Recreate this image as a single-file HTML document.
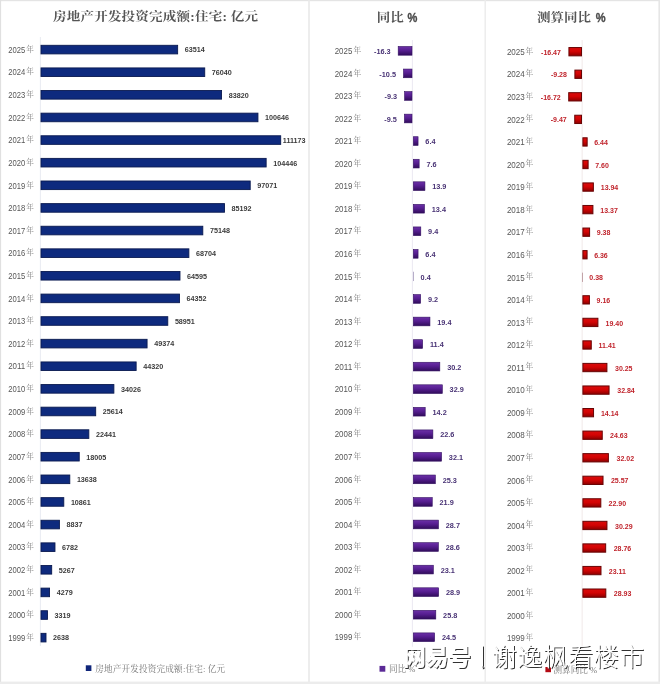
<!DOCTYPE html>
<html lang="zh-CN"><head><meta charset="utf-8"><title>房地产开发投资完成额:住宅</title>
<style>
html,body{margin:0;padding:0;background:#fff;}
body{width:660px;height:684px;overflow:hidden;position:relative;}
svg{display:block;position:absolute;left:0;top:0;filter:blur(0.3px);}
.yr{font-family:"Liberation Sans",sans-serif;font-size:8.8px;fill:#565656;}
.n{font-family:"Liberation Serif","Noto Serif CJK SC",serif;font-size:7.6px;fill:#808080;}
.ttl{font-family:"Liberation Serif","Noto Serif CJK SC",serif;font-size:13.5px;font-weight:700;fill:#555;}
.pc{font-family:"Liberation Sans",sans-serif;font-weight:bold;font-size:12.6px;fill:#4a4a4a;stroke:#4a4a4a;stroke-width:0.35px;}
.v1{font-family:"Liberation Sans",sans-serif;font-weight:bold;font-size:7.2px;fill:#3a3a3a;}
.v2{font-family:"Liberation Sans",sans-serif;font-weight:bold;font-size:7.3px;fill:#483274;}
.v3{font-family:"Liberation Sans",sans-serif;font-weight:bold;font-size:7px;fill:#c0242c;}
.lg{font-family:"Liberation Serif","Noto Serif CJK SC",serif;font-size:8.6px;fill:#757575;}
.wm{font-family:"Liberation Sans","Noto Sans CJK SC",sans-serif;font-weight:300;font-size:25px;fill:#fff;}
.wmb{font-family:"Liberation Sans","Noto Sans CJK SC",sans-serif;font-weight:900;font-size:23px;fill:#fff;}
</style></head><body>
<svg width="660" height="684" viewBox="0 0 660 684">
<defs>
<linearGradient id="gp" x1="0" y1="0" x2="0" y2="1"><stop offset="0" stop-color="#6c30a8"/><stop offset="0.45" stop-color="#561e90"/><stop offset="1" stop-color="#300c5a"/></linearGradient>
<linearGradient id="gr" x1="0" y1="0" x2="0" y2="1"><stop offset="0" stop-color="#d80c0c"/><stop offset="0.45" stop-color="#d40404"/><stop offset="1" stop-color="#8c0000"/></linearGradient>
<filter id="sh" x="-5%" y="-20%" width="110%" height="140%"><feDropShadow dx="1" dy="1" stdDeviation="0.3" flood-color="#303030" flood-opacity="1"/></filter>
</defs>
<rect x="0" y="0" width="660" height="684" fill="#fff"/>
<!-- frame -->
<rect x="0" y="0" width="660" height="1.2" fill="#e4e4e4"/>
<rect x="0" y="0" width="1.1" height="684" fill="#e0e0e0"/>
<rect x="658.4" y="0" width="1.6" height="684" fill="#e6e6e6"/>
<rect x="0" y="681.6" width="660" height="2.4" fill="#ececec"/>
<rect x="308.2" y="0" width="1.6" height="682" fill="#e9e9e9"/>
<rect x="484.5" y="0" width="1.4" height="682" fill="#ececec"/>

<!-- panel 1 -->
<text class="ttl" transform="translate(53,21.0) scale(1,0.9)" x="0" y="0" textLength="205" lengthAdjust="spacing">房地产开发投资完成额:住宅: 亿元</text>
<rect x="39.9" y="37" width="0.8" height="609" fill="#e3e6ee"/>
<text class="yr" x="8.2" y="52.80" textLength="17" lengthAdjust="spacingAndGlyphs">2025</text><text class="n" x="26.3" y="51.80">年</text>
<rect x="41.0" y="45.30" width="136.64" height="8.6" fill="#0e2a7e" stroke="#0a1a50" stroke-width="0.9"/>
<text class="v1" x="184.74" y="52.45">63514</text>
<text class="yr" x="8.2" y="75.42" textLength="17" lengthAdjust="spacingAndGlyphs">2024</text><text class="n" x="26.3" y="74.42">年</text>
<rect x="41.0" y="67.92" width="163.73" height="8.6" fill="#0e2a7e" stroke="#0a1a50" stroke-width="0.9"/>
<text class="v1" x="211.83" y="75.07">76040</text>
<text class="yr" x="8.2" y="98.03" textLength="17" lengthAdjust="spacingAndGlyphs">2023</text><text class="n" x="26.3" y="97.03">年</text>
<rect x="41.0" y="90.53" width="180.55" height="8.6" fill="#0e2a7e" stroke="#0a1a50" stroke-width="0.9"/>
<text class="v1" x="228.65" y="97.68">83820</text>
<text class="yr" x="8.2" y="120.65" textLength="17" lengthAdjust="spacingAndGlyphs">2022</text><text class="n" x="26.3" y="119.65">年</text>
<rect x="41.0" y="113.15" width="216.94" height="8.6" fill="#0e2a7e" stroke="#0a1a50" stroke-width="0.9"/>
<text class="v1" x="265.04" y="120.30">100646</text>
<text class="yr" x="8.2" y="143.27" textLength="17" lengthAdjust="spacingAndGlyphs">2021</text><text class="n" x="26.3" y="142.27">年</text>
<rect x="41.0" y="135.77" width="239.70" height="8.6" fill="#0e2a7e" stroke="#0a1a50" stroke-width="0.9"/>
<text class="v1" x="282.80" y="142.92">111173</text>
<text class="yr" x="8.2" y="165.89" textLength="17" lengthAdjust="spacingAndGlyphs">2020</text><text class="n" x="26.3" y="164.89">年</text>
<rect x="41.0" y="158.38" width="225.15" height="8.6" fill="#0e2a7e" stroke="#0a1a50" stroke-width="0.9"/>
<text class="v1" x="273.25" y="165.53">104446</text>
<text class="yr" x="8.2" y="188.50" textLength="17" lengthAdjust="spacingAndGlyphs">2019</text><text class="n" x="26.3" y="187.50">年</text>
<rect x="41.0" y="181.00" width="209.21" height="8.6" fill="#0e2a7e" stroke="#0a1a50" stroke-width="0.9"/>
<text class="v1" x="257.31" y="188.15">97071</text>
<text class="yr" x="8.2" y="211.12" textLength="17" lengthAdjust="spacingAndGlyphs">2018</text><text class="n" x="26.3" y="210.12">年</text>
<rect x="41.0" y="203.62" width="183.52" height="8.6" fill="#0e2a7e" stroke="#0a1a50" stroke-width="0.9"/>
<text class="v1" x="231.62" y="210.77">85192</text>
<text class="yr" x="8.2" y="233.74" textLength="17" lengthAdjust="spacingAndGlyphs">2017</text><text class="n" x="26.3" y="232.74">年</text>
<rect x="41.0" y="226.24" width="161.80" height="8.6" fill="#0e2a7e" stroke="#0a1a50" stroke-width="0.9"/>
<text class="v1" x="209.90" y="233.39">75148</text>
<text class="yr" x="8.2" y="256.35" textLength="17" lengthAdjust="spacingAndGlyphs">2016</text><text class="n" x="26.3" y="255.35">年</text>
<rect x="41.0" y="248.85" width="147.87" height="8.6" fill="#0e2a7e" stroke="#0a1a50" stroke-width="0.9"/>
<text class="v1" x="195.97" y="256.00">68704</text>
<text class="yr" x="8.2" y="278.97" textLength="17" lengthAdjust="spacingAndGlyphs">2015</text><text class="n" x="26.3" y="277.97">年</text>
<rect x="41.0" y="271.47" width="138.98" height="8.6" fill="#0e2a7e" stroke="#0a1a50" stroke-width="0.9"/>
<text class="v1" x="187.08" y="278.62">64595</text>
<text class="yr" x="8.2" y="301.59" textLength="17" lengthAdjust="spacingAndGlyphs">2014</text><text class="n" x="26.3" y="300.59">年</text>
<rect x="41.0" y="294.09" width="138.45" height="8.6" fill="#0e2a7e" stroke="#0a1a50" stroke-width="0.9"/>
<text class="v1" x="186.55" y="301.24">64352</text>
<text class="yr" x="8.2" y="324.20" textLength="17" lengthAdjust="spacingAndGlyphs">2013</text><text class="n" x="26.3" y="323.20">年</text>
<rect x="41.0" y="316.70" width="126.78" height="8.6" fill="#0e2a7e" stroke="#0a1a50" stroke-width="0.9"/>
<text class="v1" x="174.88" y="323.85">58951</text>
<text class="yr" x="8.2" y="346.82" textLength="17" lengthAdjust="spacingAndGlyphs">2012</text><text class="n" x="26.3" y="345.82">年</text>
<rect x="41.0" y="339.32" width="106.07" height="8.6" fill="#0e2a7e" stroke="#0a1a50" stroke-width="0.9"/>
<text class="v1" x="154.17" y="346.47">49374</text>
<text class="yr" x="8.2" y="369.44" textLength="17" lengthAdjust="spacingAndGlyphs">2011</text><text class="n" x="26.3" y="368.44">年</text>
<rect x="41.0" y="361.94" width="95.14" height="8.6" fill="#0e2a7e" stroke="#0a1a50" stroke-width="0.9"/>
<text class="v1" x="143.24" y="369.09">44320</text>
<text class="yr" x="8.2" y="392.06" textLength="17" lengthAdjust="spacingAndGlyphs">2010</text><text class="n" x="26.3" y="391.06">年</text>
<rect x="41.0" y="384.56" width="72.88" height="8.6" fill="#0e2a7e" stroke="#0a1a50" stroke-width="0.9"/>
<text class="v1" x="120.98" y="391.70">34026</text>
<text class="yr" x="8.2" y="414.67" textLength="17" lengthAdjust="spacingAndGlyphs">2009</text><text class="n" x="26.3" y="413.67">年</text>
<rect x="41.0" y="407.17" width="54.69" height="8.6" fill="#0e2a7e" stroke="#0a1a50" stroke-width="0.9"/>
<text class="v1" x="102.79" y="414.32">25614</text>
<text class="yr" x="8.2" y="437.29" textLength="17" lengthAdjust="spacingAndGlyphs">2008</text><text class="n" x="26.3" y="436.29">年</text>
<rect x="41.0" y="429.79" width="47.83" height="8.6" fill="#0e2a7e" stroke="#0a1a50" stroke-width="0.9"/>
<text class="v1" x="95.93" y="436.94">22441</text>
<text class="yr" x="8.2" y="459.91" textLength="17" lengthAdjust="spacingAndGlyphs">2007</text><text class="n" x="26.3" y="458.91">年</text>
<rect x="41.0" y="452.41" width="38.23" height="8.6" fill="#0e2a7e" stroke="#0a1a50" stroke-width="0.9"/>
<text class="v1" x="86.33" y="459.56">18005</text>
<text class="yr" x="8.2" y="482.52" textLength="17" lengthAdjust="spacingAndGlyphs">2006</text><text class="n" x="26.3" y="481.52">年</text>
<rect x="41.0" y="475.02" width="28.79" height="8.6" fill="#0e2a7e" stroke="#0a1a50" stroke-width="0.9"/>
<text class="v1" x="76.89" y="482.17">13638</text>
<text class="yr" x="8.2" y="505.14" textLength="17" lengthAdjust="spacingAndGlyphs">2005</text><text class="n" x="26.3" y="504.14">年</text>
<rect x="41.0" y="497.64" width="22.79" height="8.6" fill="#0e2a7e" stroke="#0a1a50" stroke-width="0.9"/>
<text class="v1" x="70.89" y="504.79">10861</text>
<text class="yr" x="8.2" y="527.76" textLength="17" lengthAdjust="spacingAndGlyphs">2004</text><text class="n" x="26.3" y="526.76">年</text>
<rect x="41.0" y="520.26" width="18.41" height="8.6" fill="#0e2a7e" stroke="#0a1a50" stroke-width="0.9"/>
<text class="v1" x="66.51" y="527.41">8837</text>
<text class="yr" x="8.2" y="550.37" textLength="17" lengthAdjust="spacingAndGlyphs">2003</text><text class="n" x="26.3" y="549.37">年</text>
<rect x="41.0" y="542.87" width="13.97" height="8.6" fill="#0e2a7e" stroke="#0a1a50" stroke-width="0.9"/>
<text class="v1" x="62.07" y="550.02">6782</text>
<text class="yr" x="8.2" y="572.99" textLength="17" lengthAdjust="spacingAndGlyphs">2002</text><text class="n" x="26.3" y="571.99">年</text>
<rect x="41.0" y="565.49" width="10.69" height="8.6" fill="#0e2a7e" stroke="#0a1a50" stroke-width="0.9"/>
<text class="v1" x="58.79" y="572.64">5267</text>
<text class="yr" x="8.2" y="595.61" textLength="17" lengthAdjust="spacingAndGlyphs">2001</text><text class="n" x="26.3" y="594.61">年</text>
<rect x="41.0" y="588.11" width="8.55" height="8.6" fill="#0e2a7e" stroke="#0a1a50" stroke-width="0.9"/>
<text class="v1" x="56.65" y="595.26">4279</text>
<text class="yr" x="8.2" y="618.23" textLength="17" lengthAdjust="spacingAndGlyphs">2000</text><text class="n" x="26.3" y="617.23">年</text>
<rect x="41.0" y="610.73" width="6.48" height="8.6" fill="#0e2a7e" stroke="#0a1a50" stroke-width="0.9"/>
<text class="v1" x="54.58" y="617.88">3319</text>
<text class="yr" x="8.2" y="640.84" textLength="17" lengthAdjust="spacingAndGlyphs">1999</text><text class="n" x="26.3" y="639.84">年</text>
<rect x="41.0" y="633.34" width="5.00" height="8.6" fill="#0e2a7e" stroke="#0a1a50" stroke-width="0.9"/>
<text class="v1" x="53.10" y="640.49">2638</text>
<rect x="85.8" y="665.3" width="5.6" height="5.7" fill="#10267a"/>
<text class="lg" x="95.2" y="671.6" textLength="130" lengthAdjust="spacing">房地产开发投资完成额:住宅: 亿元</text>
<!-- panel 2 -->
<text class="ttl" transform="translate(376.8,21.8) scale(1,0.9)" x="0" y="0">同比</text>
<text class="pc" transform="translate(407.6,21.7) scale(0.88,1)" x="0" y="0">%</text>
<rect x="411.90000000000003" y="40" width="0.8" height="610" fill="#e6e3ee"/>
<text class="yr" x="334.7" y="54.05" textLength="17.6" lengthAdjust="spacingAndGlyphs">2025</text><text class="n" x="353.6" y="53.05">年</text>
<rect x="398.19" y="46.50" width="13.81" height="8.70" fill="url(#gp)" stroke="#321060" stroke-width="0.6"/>
<text class="v2" text-anchor="end" x="390.69" y="54.05">-16.3</text>
<text class="yr" x="334.7" y="76.60" textLength="17.6" lengthAdjust="spacingAndGlyphs">2024</text><text class="n" x="353.6" y="75.60">年</text>
<rect x="403.49" y="69.05" width="8.51" height="8.70" fill="url(#gp)" stroke="#321060" stroke-width="0.6"/>
<text class="v2" text-anchor="end" x="395.99" y="76.60">-10.5</text>
<text class="yr" x="334.7" y="99.16" textLength="17.6" lengthAdjust="spacingAndGlyphs">2023</text><text class="n" x="353.6" y="98.16">年</text>
<rect x="404.59" y="91.61" width="7.41" height="8.70" fill="url(#gp)" stroke="#321060" stroke-width="0.6"/>
<text class="v2" text-anchor="end" x="397.09" y="99.16">-9.3</text>
<text class="yr" x="334.7" y="121.71" textLength="17.6" lengthAdjust="spacingAndGlyphs">2022</text><text class="n" x="353.6" y="120.71">年</text>
<rect x="404.41" y="114.16" width="7.59" height="8.70" fill="url(#gp)" stroke="#321060" stroke-width="0.6"/>
<text class="v2" text-anchor="end" x="396.91" y="121.71">-9.5</text>
<text class="yr" x="334.7" y="144.27" textLength="17.6" lengthAdjust="spacingAndGlyphs">2021</text><text class="n" x="353.6" y="143.27">年</text>
<rect x="413.30" y="136.72" width="4.76" height="8.70" fill="url(#gp)" stroke="#321060" stroke-width="0.6"/>
<text class="v2" x="425.36" y="144.27">6.4</text>
<text class="yr" x="334.7" y="166.82" textLength="17.6" lengthAdjust="spacingAndGlyphs">2020</text><text class="n" x="353.6" y="165.82">年</text>
<rect x="413.30" y="159.27" width="5.85" height="8.70" fill="url(#gp)" stroke="#321060" stroke-width="0.6"/>
<text class="v2" x="426.45" y="166.82">7.6</text>
<text class="yr" x="334.7" y="189.37" textLength="17.6" lengthAdjust="spacingAndGlyphs">2019</text><text class="n" x="353.6" y="188.37">年</text>
<rect x="413.30" y="181.82" width="11.62" height="8.70" fill="url(#gp)" stroke="#321060" stroke-width="0.6"/>
<text class="v2" x="432.22" y="189.37">13.9</text>
<text class="yr" x="334.7" y="211.93" textLength="17.6" lengthAdjust="spacingAndGlyphs">2018</text><text class="n" x="353.6" y="210.93">年</text>
<rect x="413.30" y="204.38" width="11.16" height="8.70" fill="url(#gp)" stroke="#321060" stroke-width="0.6"/>
<text class="v2" x="431.76" y="211.93">13.4</text>
<text class="yr" x="334.7" y="234.48" textLength="17.6" lengthAdjust="spacingAndGlyphs">2017</text><text class="n" x="353.6" y="233.48">年</text>
<rect x="413.30" y="226.93" width="7.50" height="8.70" fill="url(#gp)" stroke="#321060" stroke-width="0.6"/>
<text class="v2" x="428.10" y="234.48">9.4</text>
<text class="yr" x="334.7" y="257.04" textLength="17.6" lengthAdjust="spacingAndGlyphs">2016</text><text class="n" x="353.6" y="256.04">年</text>
<rect x="413.30" y="249.49" width="4.76" height="8.70" fill="url(#gp)" stroke="#321060" stroke-width="0.6"/>
<text class="v2" x="425.36" y="257.04">6.4</text>
<text class="yr" x="334.7" y="279.59" textLength="17.6" lengthAdjust="spacingAndGlyphs">2015</text><text class="n" x="353.6" y="278.59">年</text>
<rect x="413.00" y="271.74" width="0.6" height="9.3" fill="#8878a6"/>
<text class="v2" x="420.60" y="279.59">0.4</text>
<text class="yr" x="334.7" y="302.14" textLength="17.6" lengthAdjust="spacingAndGlyphs">2014</text><text class="n" x="353.6" y="301.14">年</text>
<rect x="413.30" y="294.59" width="7.32" height="8.70" fill="url(#gp)" stroke="#321060" stroke-width="0.6"/>
<text class="v2" x="427.92" y="302.14">9.2</text>
<text class="yr" x="334.7" y="324.70" textLength="17.6" lengthAdjust="spacingAndGlyphs">2013</text><text class="n" x="353.6" y="323.70">年</text>
<rect x="413.30" y="317.15" width="16.65" height="8.70" fill="url(#gp)" stroke="#321060" stroke-width="0.6"/>
<text class="v2" x="437.25" y="324.70">19.4</text>
<text class="yr" x="334.7" y="347.25" textLength="17.6" lengthAdjust="spacingAndGlyphs">2012</text><text class="n" x="353.6" y="346.25">年</text>
<rect x="413.30" y="339.70" width="9.33" height="8.70" fill="url(#gp)" stroke="#321060" stroke-width="0.6"/>
<text class="v2" x="429.93" y="347.25">11.4</text>
<text class="yr" x="334.7" y="369.81" textLength="17.6" lengthAdjust="spacingAndGlyphs">2011</text><text class="n" x="353.6" y="368.81">年</text>
<rect x="413.30" y="362.26" width="26.53" height="8.70" fill="url(#gp)" stroke="#321060" stroke-width="0.6"/>
<text class="v2" x="447.13" y="369.81">30.2</text>
<text class="yr" x="334.7" y="392.36" textLength="17.6" lengthAdjust="spacingAndGlyphs">2010</text><text class="n" x="353.6" y="391.36">年</text>
<rect x="413.30" y="384.81" width="29.00" height="8.70" fill="url(#gp)" stroke="#321060" stroke-width="0.6"/>
<text class="v2" x="449.60" y="392.36">32.9</text>
<text class="yr" x="334.7" y="414.91" textLength="17.6" lengthAdjust="spacingAndGlyphs">2009</text><text class="n" x="353.6" y="413.91">年</text>
<rect x="413.30" y="407.36" width="11.89" height="8.70" fill="url(#gp)" stroke="#321060" stroke-width="0.6"/>
<text class="v2" x="432.49" y="414.91">14.2</text>
<text class="yr" x="334.7" y="437.47" textLength="17.6" lengthAdjust="spacingAndGlyphs">2008</text><text class="n" x="353.6" y="436.47">年</text>
<rect x="413.30" y="429.92" width="19.58" height="8.70" fill="url(#gp)" stroke="#321060" stroke-width="0.6"/>
<text class="v2" x="440.18" y="437.47">22.6</text>
<text class="yr" x="334.7" y="460.02" textLength="17.6" lengthAdjust="spacingAndGlyphs">2007</text><text class="n" x="353.6" y="459.02">年</text>
<rect x="413.30" y="452.47" width="28.27" height="8.70" fill="url(#gp)" stroke="#321060" stroke-width="0.6"/>
<text class="v2" x="448.87" y="460.02">32.1</text>
<text class="yr" x="334.7" y="482.58" textLength="17.6" lengthAdjust="spacingAndGlyphs">2006</text><text class="n" x="353.6" y="481.58">年</text>
<rect x="413.30" y="475.03" width="22.05" height="8.70" fill="url(#gp)" stroke="#321060" stroke-width="0.6"/>
<text class="v2" x="442.65" y="482.58">25.3</text>
<text class="yr" x="334.7" y="505.13" textLength="17.6" lengthAdjust="spacingAndGlyphs">2005</text><text class="n" x="353.6" y="504.13">年</text>
<rect x="413.30" y="497.58" width="18.94" height="8.70" fill="url(#gp)" stroke="#321060" stroke-width="0.6"/>
<text class="v2" x="439.54" y="505.13">21.9</text>
<text class="yr" x="334.7" y="527.68" textLength="17.6" lengthAdjust="spacingAndGlyphs">2004</text><text class="n" x="353.6" y="526.68">年</text>
<rect x="413.30" y="520.13" width="25.16" height="8.70" fill="url(#gp)" stroke="#321060" stroke-width="0.6"/>
<text class="v2" x="445.76" y="527.68">28.7</text>
<text class="yr" x="334.7" y="550.24" textLength="17.6" lengthAdjust="spacingAndGlyphs">2003</text><text class="n" x="353.6" y="549.24">年</text>
<rect x="413.30" y="542.69" width="25.07" height="8.70" fill="url(#gp)" stroke="#321060" stroke-width="0.6"/>
<text class="v2" x="445.67" y="550.24">28.6</text>
<text class="yr" x="334.7" y="572.79" textLength="17.6" lengthAdjust="spacingAndGlyphs">2002</text><text class="n" x="353.6" y="571.79">年</text>
<rect x="413.30" y="565.24" width="20.04" height="8.70" fill="url(#gp)" stroke="#321060" stroke-width="0.6"/>
<text class="v2" x="440.64" y="572.79">23.1</text>
<text class="yr" x="334.7" y="595.35" textLength="17.6" lengthAdjust="spacingAndGlyphs">2001</text><text class="n" x="353.6" y="594.35">年</text>
<rect x="413.30" y="587.80" width="25.34" height="8.70" fill="url(#gp)" stroke="#321060" stroke-width="0.6"/>
<text class="v2" x="445.94" y="595.35">28.9</text>
<text class="yr" x="334.7" y="617.90" textLength="17.6" lengthAdjust="spacingAndGlyphs">2000</text><text class="n" x="353.6" y="616.90">年</text>
<rect x="413.30" y="610.35" width="22.51" height="8.70" fill="url(#gp)" stroke="#321060" stroke-width="0.6"/>
<text class="v2" x="443.11" y="617.90">25.8</text>
<text class="yr" x="334.7" y="640.45" textLength="17.6" lengthAdjust="spacingAndGlyphs">1999</text><text class="n" x="353.6" y="639.45">年</text>
<rect x="413.30" y="632.90" width="21.32" height="8.70" fill="url(#gp)" stroke="#321060" stroke-width="0.6"/>
<text class="v2" x="441.92" y="640.45">24.5</text>
<rect x="379.5" y="665.9" width="5.8" height="5.8" fill="#5b2a96"/>
<text class="lg" x="389" y="672.2">同比 %</text>
<!-- panel 3 -->
<text class="ttl" transform="translate(537,21.8) scale(1,0.9)" x="0" y="0">测算同比</text>
<text class="pc" transform="translate(595.8,21.7) scale(0.88,1)" x="0" y="0">%</text>
<rect x="581.7" y="40" width="0.8" height="610" fill="#eee4e4"/>
<text class="yr" x="506.9" y="54.90" textLength="17.9" lengthAdjust="spacingAndGlyphs">2025</text><text class="n" x="525.5" y="53.60">年</text>
<rect x="568.93" y="47.55" width="12.57" height="8.30" fill="url(#gr)" stroke="#680404" stroke-width="1.0"/>
<text class="v3" text-anchor="end" x="560.93" y="54.80">-16.47</text>
<text class="yr" x="506.9" y="77.46" textLength="17.9" lengthAdjust="spacingAndGlyphs">2024</text><text class="n" x="525.5" y="76.16">年</text>
<rect x="574.90" y="70.11" width="6.60" height="8.30" fill="url(#gr)" stroke="#680404" stroke-width="1.0"/>
<text class="v3" text-anchor="end" x="566.90" y="77.36">-9.28</text>
<text class="yr" x="506.9" y="100.02" textLength="17.9" lengthAdjust="spacingAndGlyphs">2023</text><text class="n" x="525.5" y="98.72">年</text>
<rect x="568.72" y="92.67" width="12.78" height="8.30" fill="url(#gr)" stroke="#680404" stroke-width="1.0"/>
<text class="v3" text-anchor="end" x="560.72" y="99.92">-16.72</text>
<text class="yr" x="506.9" y="122.58" textLength="17.9" lengthAdjust="spacingAndGlyphs">2022</text><text class="n" x="525.5" y="121.28">年</text>
<rect x="574.74" y="115.23" width="6.76" height="8.30" fill="url(#gr)" stroke="#680404" stroke-width="1.0"/>
<text class="v3" text-anchor="end" x="566.74" y="122.48">-9.47</text>
<text class="yr" x="506.9" y="145.14" textLength="17.9" lengthAdjust="spacingAndGlyphs">2021</text><text class="n" x="525.5" y="143.84">年</text>
<rect x="582.90" y="137.79" width="4.25" height="8.30" fill="url(#gr)" stroke="#680404" stroke-width="1.0"/>
<text class="v3" x="594.22" y="145.04">6.44</text>
<text class="yr" x="506.9" y="167.70" textLength="17.9" lengthAdjust="spacingAndGlyphs">2020</text><text class="n" x="525.5" y="166.40">年</text>
<rect x="582.90" y="160.35" width="5.21" height="8.30" fill="url(#gr)" stroke="#680404" stroke-width="1.0"/>
<text class="v3" x="595.23" y="167.60">7.60</text>
<text class="yr" x="506.9" y="190.26" textLength="17.9" lengthAdjust="spacingAndGlyphs">2019</text><text class="n" x="525.5" y="188.96">年</text>
<rect x="582.90" y="182.91" width="10.47" height="8.30" fill="url(#gr)" stroke="#680404" stroke-width="1.0"/>
<text class="v3" x="600.76" y="190.16">13.94</text>
<text class="yr" x="506.9" y="212.82" textLength="17.9" lengthAdjust="spacingAndGlyphs">2018</text><text class="n" x="525.5" y="211.52">年</text>
<rect x="582.90" y="205.47" width="10.00" height="8.30" fill="url(#gr)" stroke="#680404" stroke-width="1.0"/>
<text class="v3" x="600.27" y="212.72">13.37</text>
<text class="yr" x="506.9" y="235.38" textLength="17.9" lengthAdjust="spacingAndGlyphs">2017</text><text class="n" x="525.5" y="234.08">年</text>
<rect x="582.90" y="228.03" width="6.69" height="8.30" fill="url(#gr)" stroke="#680404" stroke-width="1.0"/>
<text class="v3" x="596.78" y="235.28">9.38</text>
<text class="yr" x="506.9" y="257.94" textLength="17.9" lengthAdjust="spacingAndGlyphs">2016</text><text class="n" x="525.5" y="256.64">年</text>
<rect x="582.90" y="250.59" width="4.18" height="8.30" fill="url(#gr)" stroke="#680404" stroke-width="1.0"/>
<text class="v3" x="594.15" y="257.84">6.36</text>
<text class="yr" x="506.9" y="280.50" textLength="17.9" lengthAdjust="spacingAndGlyphs">2015</text><text class="n" x="525.5" y="279.20">年</text>
<rect x="582.30" y="272.65" width="0.6" height="9.3" fill="#a07078"/>
<text class="v3" x="589.33" y="280.40">0.38</text>
<text class="yr" x="506.9" y="303.06" textLength="17.9" lengthAdjust="spacingAndGlyphs">2014</text><text class="n" x="525.5" y="301.76">年</text>
<rect x="582.90" y="295.71" width="6.50" height="8.30" fill="url(#gr)" stroke="#680404" stroke-width="1.0"/>
<text class="v3" x="596.59" y="302.96">9.16</text>
<text class="yr" x="506.9" y="325.62" textLength="17.9" lengthAdjust="spacingAndGlyphs">2013</text><text class="n" x="525.5" y="324.32">年</text>
<rect x="582.90" y="318.27" width="15.00" height="8.30" fill="url(#gr)" stroke="#680404" stroke-width="1.0"/>
<text class="v3" x="605.53" y="325.52">19.40</text>
<text class="yr" x="506.9" y="348.18" textLength="17.9" lengthAdjust="spacingAndGlyphs">2012</text><text class="n" x="525.5" y="346.88">年</text>
<rect x="582.90" y="340.83" width="8.37" height="8.30" fill="url(#gr)" stroke="#680404" stroke-width="1.0"/>
<text class="v3" x="598.56" y="348.08">11.41</text>
<text class="yr" x="506.9" y="370.74" textLength="17.9" lengthAdjust="spacingAndGlyphs">2011</text><text class="n" x="525.5" y="369.44">年</text>
<rect x="582.90" y="363.39" width="24.01" height="8.30" fill="url(#gr)" stroke="#680404" stroke-width="1.0"/>
<text class="v3" x="615.00" y="370.64">30.25</text>
<text class="yr" x="506.9" y="393.30" textLength="17.9" lengthAdjust="spacingAndGlyphs">2010</text><text class="n" x="525.5" y="392.00">年</text>
<rect x="582.90" y="385.95" width="26.16" height="8.30" fill="url(#gr)" stroke="#680404" stroke-width="1.0"/>
<text class="v3" x="617.26" y="393.20">32.84</text>
<text class="yr" x="506.9" y="415.86" textLength="17.9" lengthAdjust="spacingAndGlyphs">2009</text><text class="n" x="525.5" y="414.56">年</text>
<rect x="582.90" y="408.51" width="10.64" height="8.30" fill="url(#gr)" stroke="#680404" stroke-width="1.0"/>
<text class="v3" x="600.94" y="415.76">14.14</text>
<text class="yr" x="506.9" y="438.42" textLength="17.9" lengthAdjust="spacingAndGlyphs">2008</text><text class="n" x="525.5" y="437.12">年</text>
<rect x="582.90" y="431.07" width="19.34" height="8.30" fill="url(#gr)" stroke="#680404" stroke-width="1.0"/>
<text class="v3" x="610.10" y="438.32">24.63</text>
<text class="yr" x="506.9" y="460.98" textLength="17.9" lengthAdjust="spacingAndGlyphs">2007</text><text class="n" x="525.5" y="459.68">年</text>
<rect x="582.90" y="453.63" width="25.48" height="8.30" fill="url(#gr)" stroke="#680404" stroke-width="1.0"/>
<text class="v3" x="616.55" y="460.88">32.02</text>
<text class="yr" x="506.9" y="483.54" textLength="17.9" lengthAdjust="spacingAndGlyphs">2006</text><text class="n" x="525.5" y="482.24">年</text>
<rect x="582.90" y="476.19" width="20.12" height="8.30" fill="url(#gr)" stroke="#680404" stroke-width="1.0"/>
<text class="v3" x="610.92" y="483.44">25.57</text>
<text class="yr" x="506.9" y="506.10" textLength="17.9" lengthAdjust="spacingAndGlyphs">2005</text><text class="n" x="525.5" y="504.80">年</text>
<rect x="582.90" y="498.75" width="17.91" height="8.30" fill="url(#gr)" stroke="#680404" stroke-width="1.0"/>
<text class="v3" x="608.59" y="506.00">22.90</text>
<text class="yr" x="506.9" y="528.66" textLength="17.9" lengthAdjust="spacingAndGlyphs">2004</text><text class="n" x="525.5" y="527.36">年</text>
<rect x="582.90" y="521.31" width="24.04" height="8.30" fill="url(#gr)" stroke="#680404" stroke-width="1.0"/>
<text class="v3" x="615.04" y="528.56">30.29</text>
<text class="yr" x="506.9" y="551.22" textLength="17.9" lengthAdjust="spacingAndGlyphs">2003</text><text class="n" x="525.5" y="549.92">年</text>
<rect x="582.90" y="543.87" width="22.77" height="8.30" fill="url(#gr)" stroke="#680404" stroke-width="1.0"/>
<text class="v3" x="613.70" y="551.12">28.76</text>
<text class="yr" x="506.9" y="573.78" textLength="17.9" lengthAdjust="spacingAndGlyphs">2002</text><text class="n" x="525.5" y="572.48">年</text>
<rect x="582.90" y="566.43" width="18.08" height="8.30" fill="url(#gr)" stroke="#680404" stroke-width="1.0"/>
<text class="v3" x="608.77" y="573.68">23.11</text>
<text class="yr" x="506.9" y="596.34" textLength="17.9" lengthAdjust="spacingAndGlyphs">2001</text><text class="n" x="525.5" y="595.04">年</text>
<rect x="582.90" y="588.99" width="22.91" height="8.30" fill="url(#gr)" stroke="#680404" stroke-width="1.0"/>
<text class="v3" x="613.85" y="596.24">28.93</text>
<text class="yr" x="506.9" y="618.90" textLength="17.9" lengthAdjust="spacingAndGlyphs">2000</text><text class="n" x="525.5" y="617.60">年</text>
<text class="yr" x="506.9" y="641.46" textLength="17.9" lengthAdjust="spacingAndGlyphs">1999</text><text class="n" x="525.5" y="640.16">年</text>
<rect x="545.4" y="667.0" width="5.6" height="5.2" fill="#b40a14"/>
<text class="lg" x="553.5" y="673">测算同比 %</text>
<!-- watermark -->
<g filter="url(#sh)">
<text class="wmb" x="402.7" y="665.1" textLength="68.3" lengthAdjust="spacing">网易号</text>
<rect x="481.8" y="645.6" width="1.2" height="22.6" fill="#fff"/>
<rect x="482.2" y="666.4" width="1.4" height="1.4" fill="#9a9a9a"/>
<text class="wm" x="491.8" y="666.0" textLength="152.5" lengthAdjust="spacing">谢逸枫看楼市</text>
</g>
</svg></body></html>
